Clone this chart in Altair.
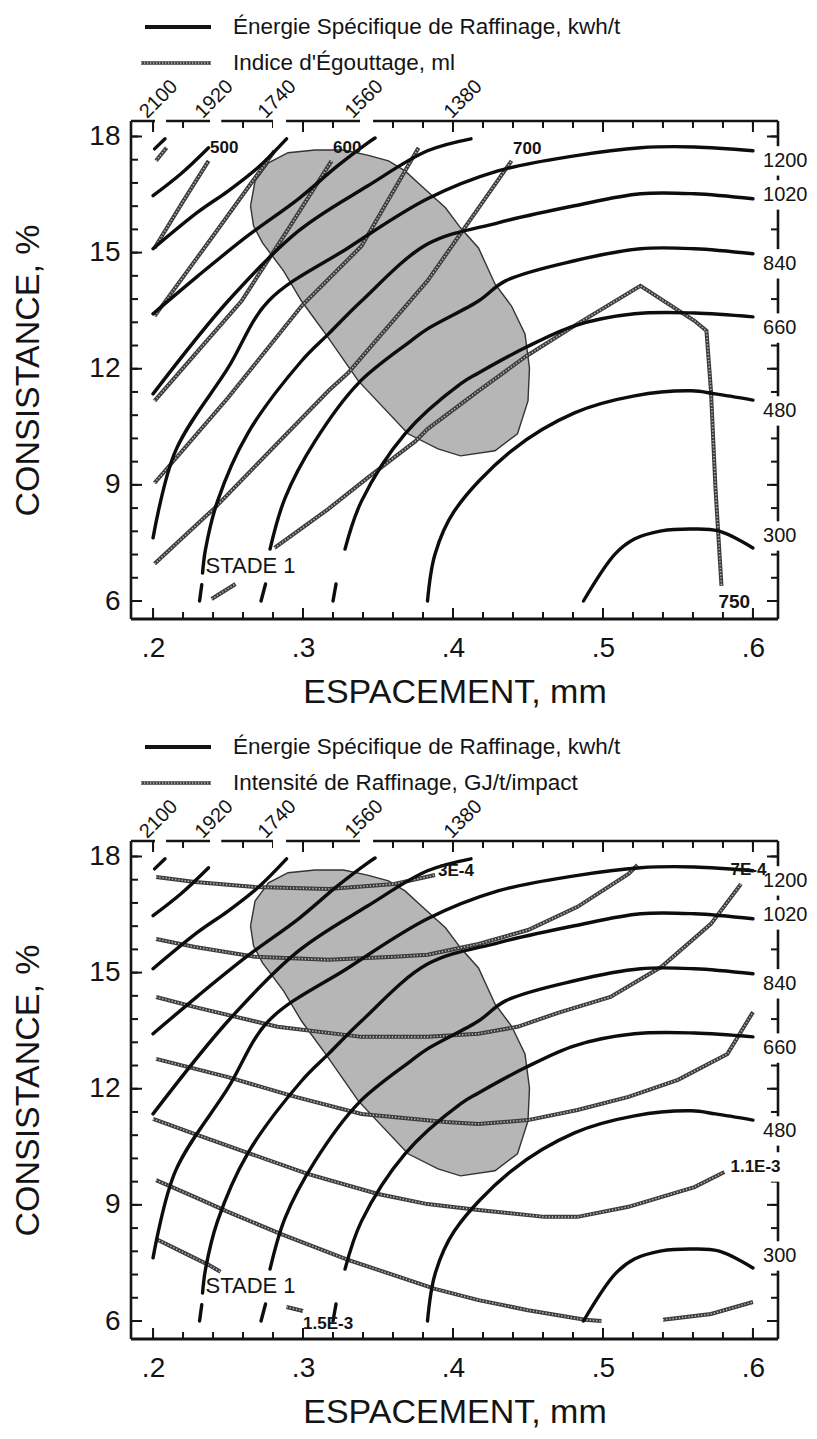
import altair as alt
import pandas as pd

FONT = "Liberation Sans"
INK = "#141414"
W, H = 647, 498
X_DOMAIN = [0.1853, 0.6167]
Y_DOMAIN = [5.535, 18.40]

# ---------------- axis ticks ----------------
x_major = [0.2, 0.3, 0.4, 0.5, 0.6]
x_minor = [0.20, 0.22, 0.24, 0.26, 0.28, 0.30, 0.32, 0.34, 0.36, 0.38, 0.40,
           0.42, 0.44, 0.46, 0.48, 0.50, 0.52, 0.54, 0.56, 0.58, 0.60]
y_major = [6, 9, 12, 15, 18]
y_minor = [6.0, 6.6, 7.2, 7.8, 8.4, 9.0, 9.6, 10.2, 10.8, 11.4, 12.0,
           12.6, 13.2, 13.8, 14.4, 15.0, 15.6, 16.2, 16.8, 17.4, 18.0]

# ---------------- Énergie spécifique de raffinage (kWh/t) ----------------
E2100_x = [0.201, 0.208]
E2100_y = [17.68, 17.94]
E1920_x = [0.200, 0.219, 0.237]
E1920_y = [16.47, 17.05, 17.71]
E1740_x = [0.200, 0.230, 0.250, 0.270, 0.289]
E1740_y = [15.10, 16.05, 16.59, 17.20, 17.94]
E1560_x = [0.200, 0.230, 0.263, 0.297, 0.323, 0.343, 0.348]
E1560_y = [13.42, 14.40, 15.43, 16.39, 17.24, 17.83, 17.96]
E1380_x = [0.200, 0.250, 0.297, 0.343, 0.383, 0.412]
E1380_y = [11.35, 13.75, 15.56, 16.72, 17.63, 17.94]
E1200_x = [0.200, 0.215, 0.250, 0.277, 0.330, 0.383, 0.430, 0.481, 0.525, 0.561, 0.600]
E1200_y = [7.63, 9.88, 12.02, 13.75, 15.12, 16.39, 17.11, 17.50, 17.71, 17.73, 17.63]
E1020a_x = [0.231, 0.2325]
E1020a_y = [6.00, 6.42]
E1020b_x = [0.233, 0.235, 0.243, 0.263, 0.299, 0.317, 0.339, 0.383, 0.430, 0.481, 0.525, 0.561, 0.600]
E1020b_y = [6.72, 7.34, 8.58, 10.32, 12.20, 12.90, 13.75, 15.22, 15.77, 16.21, 16.52, 16.52, 16.39]
E840a_x = [0.272, 0.275]
E840a_y = [6.00, 6.44]
E840b_x = [0.278, 0.288, 0.308, 0.337, 0.372, 0.383, 0.417, 0.435, 0.481, 0.525, 0.561, 0.600]
E840b_y = [7.34, 8.66, 10.13, 11.63, 12.72, 13.03, 13.75, 14.27, 14.79, 15.10, 15.10, 14.97]
E660a_x = [0.320, 0.322]
E660a_y = [6.00, 6.44]
E660b_x = [0.328, 0.339, 0.368, 0.405, 0.417, 0.448, 0.481, 0.521, 0.561, 0.600]
E660b_y = [7.34, 8.58, 10.32, 11.61, 11.89, 12.54, 13.11, 13.42, 13.44, 13.34]
E480_x = [0.383, 0.388, 0.401, 0.439, 0.481, 0.521, 0.559, 0.575, 0.600]
E480_y = [6.00, 7.21, 8.33, 9.88, 10.86, 11.30, 11.43, 11.35, 11.19]
E300_x = [0.487, 0.508, 0.521, 0.539, 0.559, 0.577, 0.600]
E300_y = [6.00, 7.21, 7.60, 7.81, 7.86, 7.81, 7.37]

energy_lines = {
    "2100": [(E2100_x, E2100_y)],
    "1920": [(E1920_x, E1920_y)],
    "1740": [(E1740_x, E1740_y)],
    "1560": [(E1560_x, E1560_y)],
    "1380": [(E1380_x, E1380_y)],
    "1200": [(E1200_x, E1200_y)],
    "1020": [(E1020a_x, E1020a_y), (E1020b_x, E1020b_y)],
    "840": [(E840a_x, E840a_y), (E840b_x, E840b_y)],
    "660": [(E660a_x, E660a_y), (E660b_x, E660b_y)],
    "480": [(E480_x, E480_y)],
    "300": [(E300_x, E300_y)],
}

# ---------------- Indice d'égouttage (ml) : top panel ----------------
F0_x = [0.202, 0.209]
F0_y = [17.37, 17.71]
F500_x = [0.201, 0.219, 0.237]
F500_y = [15.12, 16.26, 17.37]
F550_x = [0.201, 0.240, 0.281]
F550_y = [13.36, 15.43, 17.63]
F600_x = [0.201, 0.230, 0.259, 0.290, 0.319]
F600_y = [11.17, 12.46, 13.75, 15.60, 17.37]
F650_x = [0.201, 0.250, 0.299, 0.339, 0.377]
F650_y = [9.05, 11.25, 13.62, 15.17, 17.71]
F700_x = [0.201, 0.241, 0.317, 0.330, 0.383, 0.439]
F700_y = [6.96, 8.40, 11.43, 11.89, 14.27, 17.37]
F750a_x = [0.239, 0.255]
F750a_y = [6.05, 6.44]
F750b_x = [0.281, 0.317, 0.343, 0.375, 0.383, 0.417, 0.449, 0.483, 0.525, 0.561, 0.569, 0.572, 0.575, 0.579]
F750b_y = [7.37, 8.38, 9.18, 10.13, 10.44, 11.43, 12.33, 13.16, 14.14, 13.24, 12.98, 11.43, 8.92, 6.39]

freeness_lines = {
    "f0": [(F0_x, F0_y)],
    "500": [(F500_x, F500_y)],
    "550": [(F550_x, F550_y)],
    "600": [(F600_x, F600_y)],
    "650": [(F650_x, F650_y)],
    "700": [(F700_x, F700_y)],
    "750": [(F750a_x, F750a_y), (F750b_x, F750b_y)],
}

# ---------------- Intensité de raffinage (GJ/t/impact) : bottom panel ----------------
I1_x = [0.202, 0.228, 0.268, 0.317, 0.361, 0.388]
I1_y = [17.47, 17.34, 17.21, 17.16, 17.29, 17.52]
I2_x = [0.202, 0.228, 0.268, 0.317, 0.361, 0.383, 0.417, 0.450, 0.483, 0.517, 0.523]
I2_y = [15.87, 15.66, 15.41, 15.33, 15.41, 15.46, 15.74, 16.10, 16.70, 17.55, 17.78]
I3_x = [0.202, 0.228, 0.283, 0.339, 0.383, 0.417, 0.443, 0.470, 0.505, 0.539, 0.572, 0.592]
I3_y = [14.37, 14.11, 13.60, 13.34, 13.34, 13.42, 13.60, 13.96, 14.37, 15.15, 16.26, 17.29]
I4_x = [0.202, 0.250, 0.295, 0.339, 0.395, 0.417, 0.450, 0.483, 0.517, 0.550, 0.583, 0.600]
I4_y = [12.77, 12.30, 11.79, 11.35, 11.14, 11.09, 11.19, 11.45, 11.79, 12.23, 12.90, 13.98]
I5_x = [0.200, 0.228, 0.265, 0.303, 0.350, 0.383, 0.417, 0.461, 0.483, 0.517, 0.561, 0.581]
I5_y = [11.22, 10.83, 10.32, 9.80, 9.28, 9.02, 8.87, 8.69, 8.69, 8.95, 9.46, 9.85]
I6a_x = [0.202, 0.228, 0.250, 0.285, 0.330, 0.388, 0.417, 0.450, 0.488, 0.499]
I6a_y = [9.64, 9.20, 8.82, 8.25, 7.58, 6.83, 6.54, 6.28, 6.03, 6.00]
I6b_x = [0.540, 0.572, 0.600]
I6b_y = [6.03, 6.18, 6.49]
I7a_x = [0.202, 0.217, 0.237, 0.245]
I7a_y = [8.12, 7.83, 7.45, 7.27]
I7b_x = [0.289, 0.300]
I7b_y = [6.36, 6.26]

intensity_lines = {
    "3E-4": [(I1_x, I1_y)],
    "i2": [(I2_x, I2_y)],
    "7E-4": [(I3_x, I3_y)],
    "i4": [(I4_x, I4_y)],
    "1.1E-3": [(I5_x, I5_y)],
    "i6": [(I6a_x, I6a_y), (I6b_x, I6b_y)],
    "1.5E-3": [(I7a_x, I7a_y), (I7b_x, I7b_y)],
}

# ---------------- optimum zone (shaded) ----------------
ell_x = [0.265, 0.268, 0.277, 0.290, 0.308, 0.327, 0.343, 0.357, 0.368, 0.379, 0.395, 0.405,
         0.417, 0.428, 0.439, 0.448, 0.451, 0.450, 0.443, 0.428, 0.405, 0.390, 0.370, 0.337,
         0.315, 0.299, 0.287, 0.273, 0.267, 0.265]
ell_y = [16.21, 16.85, 17.32, 17.58, 17.65, 17.65, 17.52, 17.37, 17.11, 16.72, 16.16, 15.64,
         15.12, 14.19, 13.62, 12.90, 12.02, 11.17, 10.32, 9.88, 9.75, 9.93, 10.32, 11.68,
         12.90, 13.75, 14.53, 15.25, 15.69, 16.21]

# ---------------- labels ----------------
right_text = ["1200", "1020", "840", "660", "480", "300"]
right_y = [17.37, 16.49, 14.71, 13.05, 10.91, 7.68]
right_x = 0.6067
top_text = ["2100", "1920", "1740", "1560", "1380"]
top_x = [0.198, 0.235, 0.277, 0.335, 0.401]
top_gap_x1 = [0.2013, 0.238, 0.280, 0.338]
top_gap_x2 = [0.2087, 0.2455, 0.2887, 0.3467]

top_lab_text = ["500", "600", "700"]
top_lab_x = [0.238, 0.320, 0.440]
top_lab_y = [17.71, 17.71, 17.68]
top_big_text = ["750"]
top_big_x = [0.577]
top_big_y = [5.98]
bot_lab_text = ["3E-4", "7E-4", "1.1E-3", "1.5E-3"]
bot_lab_x = [0.390, 0.585, 0.585, 0.300]
bot_lab_y = [17.62, 17.65, 9.98, 5.92]
bot_gap_y = [9.98]

stade_text = "STADE 1"
stade_x, stade_y = 0.235, 6.90

legend_energy = "Énergie Spécifique de Raffinage, kwh/t"
legend_top = "Indice d'Égouttage, ml"
legend_bottom = "Intensité de Raffinage, GJ/t/impact"

# ---------------- helpers ----------------
xs = alt.Scale(domain=X_DOMAIN, nice=False, zero=False)
ys = alt.Scale(domain=Y_DOMAIN, nice=False, zero=False)
X_AXIS = alt.Axis(values=x_major, labelExpr="substring(format(datum.value, '.1f'), 1)",
                  title="ESPACEMENT, mm", domain=False, ticks=False, tickSize=0, grid=False,
                  labelFlush=False, labelPadding=15, titlePadding=13,
                  labelFontSize=28, titleFontSize=34, labelFont=FONT, titleFont=FONT,
                  titleFontWeight="normal", labelColor=INK, titleColor=INK)
Y_AXIS = alt.Axis(values=y_major, format="d", title="CONSISTANCE, %", domain=False,
                  ticks=False, tickSize=0, grid=False, labelPadding=11, titlePadding=43,
                  labelFontSize=28, titleFontSize=34, labelFont=FONT, titleFont=FONT,
                  titleFontWeight="normal", labelColor=INK, titleColor=INK)


def X(f="x"):
    return alt.X(f"{f}:Q", scale=xs, axis=X_AXIS)


def Y(f="y"):
    return alt.Y(f"{f}:Q", scale=ys, axis=Y_AXIS)


def lines_df(lines):
    rows = []
    for name, segs in lines.items():
        for si, (sx, sy) in enumerate(segs):
            for k, (xv, yv) in enumerate(zip(sx, sy)):
                rows.append({"line": name, "seg": f"{name}_{si}", "o": k, "x": xv, "y": yv})
    return pd.DataFrame(rows)


one = pd.DataFrame({"k": [0]})


def panel(hatch_lines, legend2, lab_text, lab_x, lab_y, big_text, big_x, big_y, extra_gap_y):
    layers = []
    ell = pd.DataFrame({"x": ell_x, "y": ell_y, "o": list(range(len(ell_x)))})
    layers.append(alt.Chart(ell).mark_line(fill="#b6b6b6", stroke="#333333", strokeWidth=1.4,
                                           interpolate="linear")
                  .encode(x=X(), y=Y(), order="o:Q"))
    hd = lines_df(hatch_lines)
    layers.append(alt.Chart(hd).mark_line(color="#3c3c3c", strokeWidth=4.0, interpolate="linear")
                  .encode(x=X(), y=Y(), detail="seg:N", order="o:Q"))
    layers.append(alt.Chart(hd).mark_line(color="#b9b9b9", strokeWidth=1.6, strokeDash=[1.3, 1.9],
                                          interpolate="linear")
                  .encode(x=X(), y=Y(), detail="seg:N", order="o:Q"))
    ed = lines_df(energy_lines)
    layers.append(alt.Chart(ed).mark_line(color="#0d0d0d", strokeWidth=3.4, strokeCap="round",
                                          interpolate="catmull-rom")
                  .encode(x=X(), y=Y(), detail="seg:N", order="o:Q"))
    # frame
    fw = 2.6
    layers.append(alt.Chart(one).mark_rule(color=INK, strokeWidth=fw)
                  .encode(x=alt.value(0), x2=alt.value(W), y=alt.value(0)))
    layers.append(alt.Chart(one).mark_rule(color=INK, strokeWidth=fw + 0.6)
                  .encode(x=alt.value(0), x2=alt.value(W), y=alt.value(H)))
    layers.append(alt.Chart(one).mark_rule(color=INK, strokeWidth=fw)
                  .encode(x=alt.value(0), y=alt.value(0), y2=alt.value(H)))
    layers.append(alt.Chart(one).mark_rule(color=INK, strokeWidth=fw)
                  .encode(x=alt.value(W), y=alt.value(0), y2=alt.value(H)))
    # ticks (inward)
    xm = pd.DataFrame({"x": x_minor})
    xM = pd.DataFrame({"x": x_major})
    ym = pd.DataFrame({"y": y_minor})
    yM = pd.DataFrame({"y": y_major})
    for d, ln in ((xm, 7), (xM, 11)):
        layers.append(alt.Chart(d).mark_rule(color=INK, strokeWidth=2)
                      .encode(x=X(), y=alt.value(H), y2=alt.value(H - ln)))
        layers.append(alt.Chart(d).mark_rule(color=INK, strokeWidth=2)
                      .encode(x=X(), y=alt.value(0), y2=alt.value(ln)))
    for d, ln in ((ym, 7), (yM, 11)):
        layers.append(alt.Chart(d).mark_rule(color=INK, strokeWidth=2)
                      .encode(y=Y(), x=alt.value(0), x2=alt.value(ln)))
        layers.append(alt.Chart(d).mark_rule(color=INK, strokeWidth=2)
                      .encode(y=Y(), x=alt.value(W), x2=alt.value(W - ln)))
    # frame gaps behind labels
    gx = pd.DataFrame({"x1": top_gap_x1, "x2": top_gap_x2,
                       "y1": [18.22] * len(top_gap_x1), "y2": [18.60] * len(top_gap_x1)})
    layers.append(alt.Chart(gx).mark_rect(color="white")
                  .encode(x=X("x1"), x2="x2:Q", y=Y("y1"), y2="y2:Q"))
    gy_c = right_y + extra_gap_y
    gy = pd.DataFrame({"x1": [0.604] * len(gy_c), "x2": [0.619] * len(gy_c),
                       "y1": [v - 0.38 for v in gy_c], "y2": [v + 0.38 for v in gy_c]})
    layers.append(alt.Chart(gy).mark_rect(color="white")
                  .encode(x=X("x1"), x2="x2:Q", y=Y("y1"), y2="y2:Q"))
    # right labels
    rd = pd.DataFrame({"t": right_text, "x": [right_x] * len(right_text), "y": right_y})
    layers.append(alt.Chart(rd).mark_text(align="left", baseline="middle", font=FONT,
                                          fontSize=20, color=INK)
                  .encode(x=X(), y=Y(), text="t:N"))
    # top rotated labels
    td = pd.DataFrame({"t": top_text, "x": top_x})
    layers.append(alt.Chart(td).mark_text(align="left", baseline="bottom", angle=315, font=FONT,
                                          fontSize=20, color=INK)
                  .encode(x=X(), y=alt.value(1), text="t:N"))
    # inner labels
    ld = pd.DataFrame({"t": lab_text, "x": lab_x, "y": lab_y})
    layers.append(alt.Chart(ld).mark_text(align="left", baseline="middle", font=FONT,
                                          fontSize=17, fontWeight="bold", color=INK)
                  .encode(x=X(), y=Y(), text="t:N"))
    if big_text:
        bd = pd.DataFrame({"t": big_text, "x": big_x, "y": big_y})
        layers.append(alt.Chart(bd).mark_text(align="left", baseline="middle", font=FONT,
                                              fontSize=19, fontWeight="bold", color=INK)
                      .encode(x=X(), y=Y(), text="t:N"))
    sd = pd.DataFrame({"t": [stade_text], "x": [stade_x], "y": [stade_y]})
    layers.append(alt.Chart(sd).mark_text(align="left", baseline="middle", font=FONT,
                                          fontSize=22, color=INK)
                  .encode(x=X(), y=Y(), text="t:N"))
    # legend
    layers.append(alt.Chart(one).mark_rule(color=INK, strokeWidth=4)
                  .encode(x=alt.value(14), x2=alt.value(80), y=alt.value(-94)))
    layers.append(alt.Chart(one).mark_rule(color="#3c3c3c", strokeWidth=3.4)
                  .encode(x=alt.value(10), x2=alt.value(80), y=alt.value(-58)))
    layers.append(alt.Chart(one).mark_rule(color="#b9b9b9", strokeWidth=1.3, strokeDash=[1.3, 1.7])
                  .encode(x=alt.value(10), x2=alt.value(80), y=alt.value(-58)))
    layers.append(alt.Chart(one).mark_text(text=legend_energy, align="left", baseline="middle",
                                           font=FONT, fontSize=22.5, color=INK)
                  .encode(x=alt.value(102), y=alt.value(-94)))
    layers.append(alt.Chart(one).mark_text(text=legend2, align="left", baseline="middle",
                                           font=FONT, fontSize=22.5, color=INK)
                  .encode(x=alt.value(102), y=alt.value(-58)))
    return alt.layer(*layers).properties(width=W, height=H)


top = panel(freeness_lines, legend_top, top_lab_text, top_lab_x, top_lab_y,
            top_big_text, top_big_x, top_big_y, [])
bottom = panel(intensity_lines, legend_bottom, bot_lab_text, bot_lab_x, bot_lab_y,
               [], [], [], bot_gap_y)

chart = (alt.vconcat(top, bottom, spacing=27)
         .properties(padding={"left": 3, "top": 8, "right": 0, "bottom": 0})
         .configure_view(stroke=None))

chart.save("out.html", embed_options={"renderer": "svg", "actions": False})
